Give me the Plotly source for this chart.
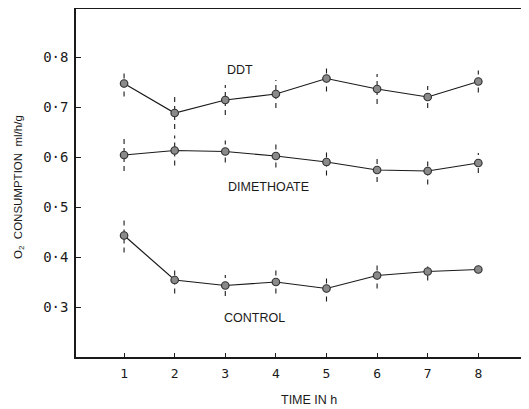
import plotly.graph_objects as go

hours = [1, 2, 3, 4, 5, 6, 7, 8]
ddt = [0.747, 0.688, 0.714, 0.726, 0.757, 0.736, 0.720, 0.751]
ddt_err = [0.026, 0.032, 0.030, 0.028, 0.026, 0.030, 0.022, 0.022]
dimethoate = [0.604, 0.613, 0.611, 0.602, 0.590, 0.574, 0.572, 0.588]
dimethoate_err = [0.032, 0.030, 0.022, 0.023, 0.027, 0.024, 0.027, 0.020]
control = [0.443, 0.354, 0.343, 0.350, 0.337, 0.363, 0.371, 0.375]
control_err = [0.034, 0.027, 0.021, 0.023, 0.026, 0.026, 0.018, 0.0]

y_ticks = [0.3, 0.4, 0.5, 0.6, 0.7, 0.8]
y_tick_text = ["0·3", "0·4", "0·5", "0·6", "0·7", "0·8"]
x_ticks = [1, 2, 3, 4, 5, 6, 7, 8]
x_tick_text = ["1", "2", "3", "4", "5", "6", "7", "8"]

series = [("DDT", ddt, ddt_err), ("DIMETHOATE", dimethoate, dimethoate_err), ("CONTROL", control, control_err)]
labels = [("DDT", 3.29, 0.774), ("DIMETHOATE", 3.85, 0.541), ("CONTROL", 3.57, 0.279)]

FONT = "Liberation Sans"
MONO = "DejaVu Sans Mono"
INK = "#1a1a1a"

fig = go.Figure()
for name, vals, errs in series:
    ex, ey = [], []
    for x, v, e in zip(hours, vals, errs):
        if e > 0:
            ex += [x, x, None]
            ey += [v - e, v + e, None]
    fig.add_trace(go.Scatter(x=ex, y=ey, mode="lines", showlegend=False, hoverinfo="skip",
                             line=dict(color=INK, width=1.1, dash="5px,4px")))
    fig.add_trace(go.Scatter(x=hours, y=vals, mode="lines+markers", name=name, showlegend=False,
                             line=dict(color=INK, width=1.2),
                             marker=dict(size=7.5, color="#8a8a8a", line=dict(color="#333", width=1.2))))

for text, x, y in labels:
    fig.add_annotation(x=x, y=y, text=text, showarrow=False, xref="x", yref="y",
                       font=dict(family=FONT, size=12.5, color=INK))

PW, PH = 461, 348  # plot area size in px
fig.add_annotation(x=(309 - 76) / PW, y=(357 - 400) / PH, xref="paper", yref="paper",
                   xanchor="center", yanchor="middle",
                   text="TIME IN h", showarrow=False, font=dict(family=FONT, size=12.5, color=INK))
fig.add_annotation(x=(19 - 76) / PW, y=(357 - 187) / PH, xref="paper", yref="paper",
                   xanchor="center", yanchor="middle",
                   text="O<sub>2</sub>  CONSUMPTION  ml/h/g", textangle=-90, showarrow=False,
                   font=dict(family=FONT, size=11.5, color=INK))

# page body has an 8px default margin, so the figure is offset by 8px
fig.update_layout(
    width=529, height=409,
    margin=dict(l=68, r=0, t=1, b=60),
    paper_bgcolor="white", plot_bgcolor="white",
    font=dict(family=FONT, color=INK),
    xaxis=dict(range=[0.05, 9.16], tickvals=x_ticks, ticktext=x_tick_text, ticks="inside", ticklen=4,
               tickcolor=INK, showline=True, linecolor=INK, linewidth=1.5, mirror=True,
               showgrid=False, zeroline=False, ticklabelstandoff=4,
               tickfont=dict(family=MONO, size=13, color=INK)),
    yaxis=dict(range=[0.2, 0.896], tickvals=y_ticks, ticktext=y_tick_text, ticks="inside", ticklen=5,
               tickcolor=INK, showline=True, linecolor=INK, linewidth=1.5,
               showgrid=False, zeroline=False, ticklabelstandoff=3,
               tickfont=dict(family=MONO, size=14, color=INK)),
)

fig.write_html("out.html")
